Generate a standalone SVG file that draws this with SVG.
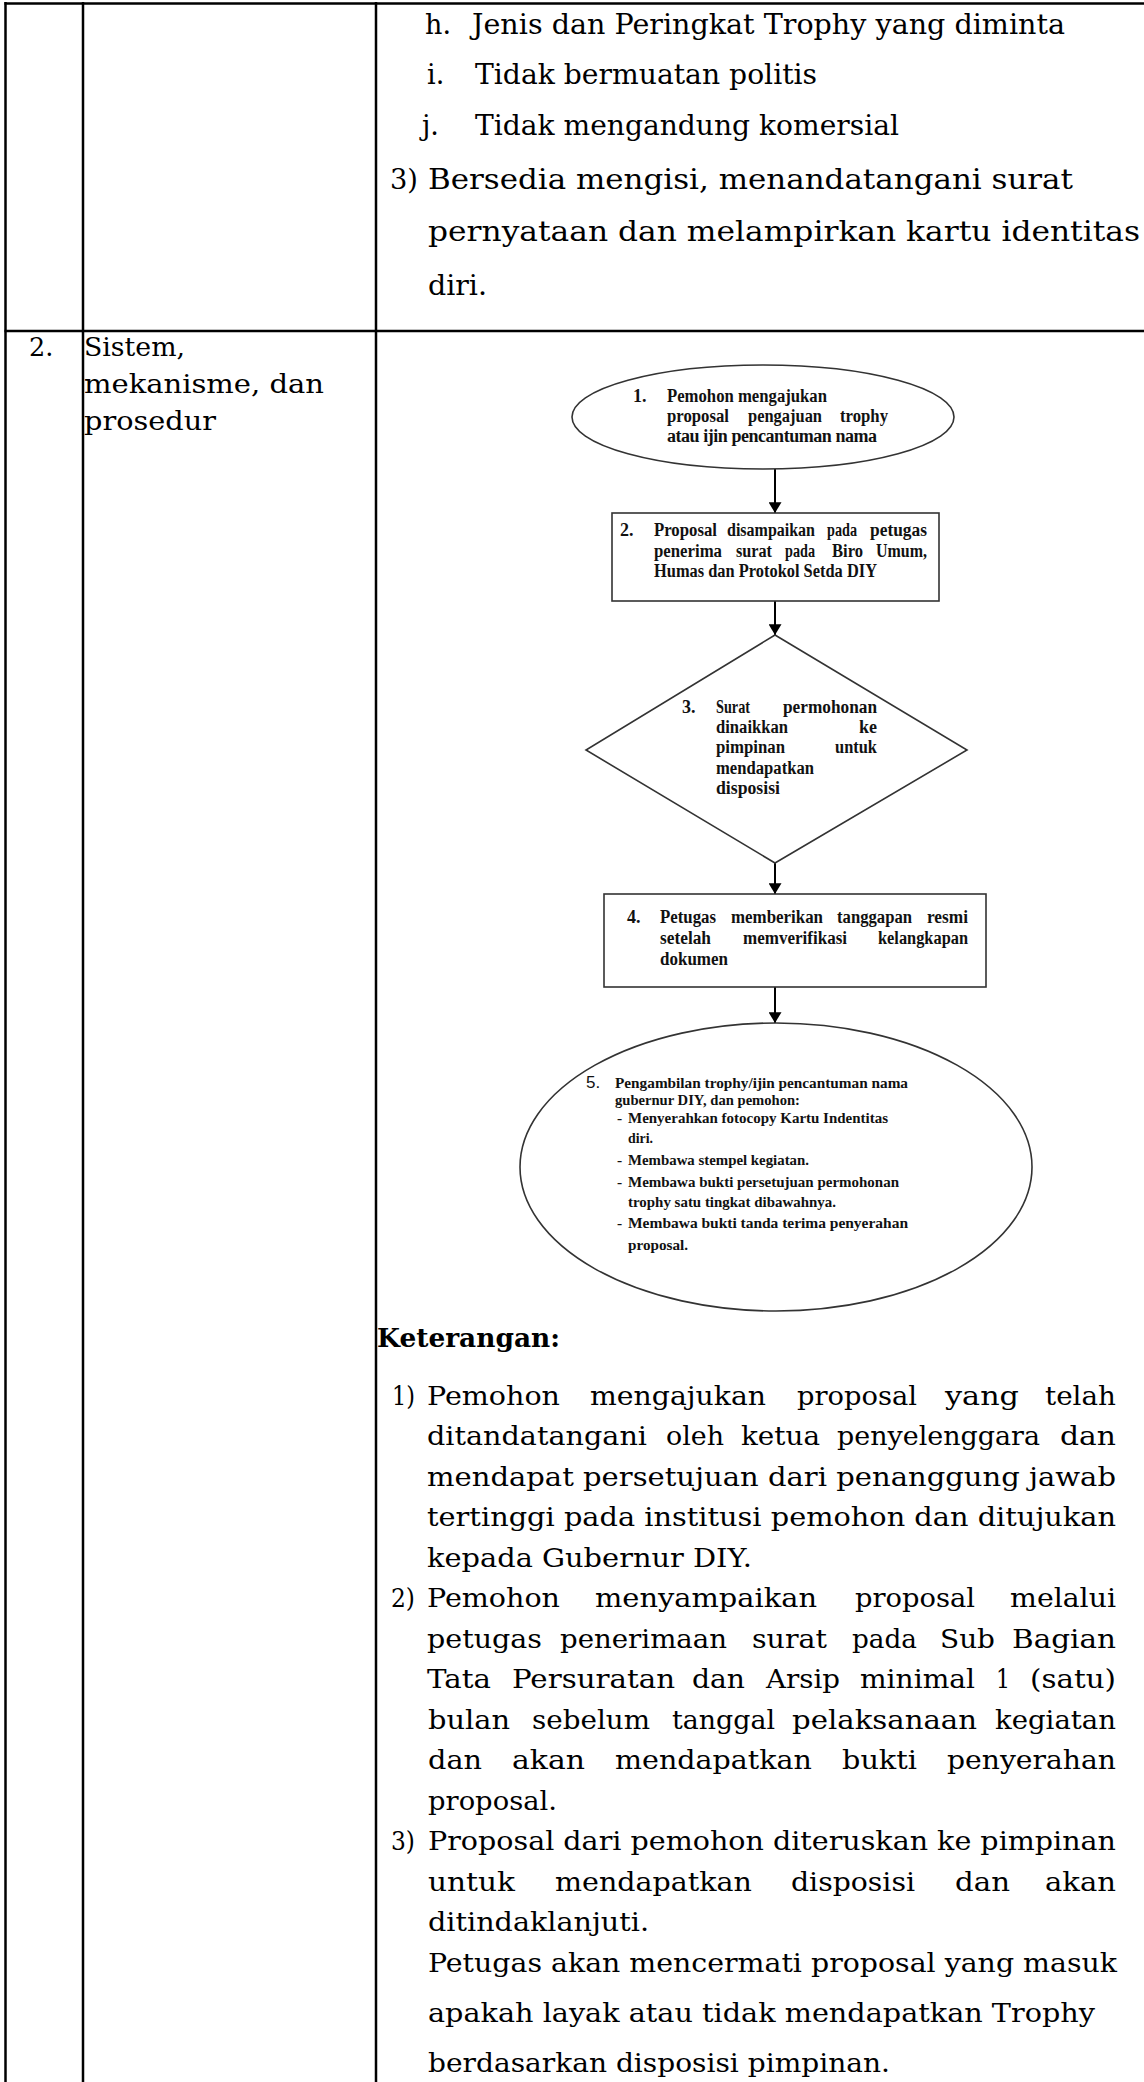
<svg xmlns="http://www.w3.org/2000/svg" width="1144" height="2082" viewBox="0 0 1144 2082">
<style>
.grid{stroke:#000;stroke-width:2.5;fill:none}
.t1{font-family:"DejaVu Serif",serif;font-size:27px;fill:#000}
.t2{font-family:"DejaVu Serif",serif;font-size:25.5px;fill:#000}
.k{font-family:"DejaVu Serif",serif;font-size:26.5px;fill:#000}
.kh{font-family:"DejaVu Serif",serif;font-size:26px;font-weight:bold;fill:#000}
.f{font-family:"Liberation Serif",serif;font-size:18px;font-weight:bold;fill:#111}
.f5{font-family:"Liberation Serif",serif;font-size:15.5px;font-weight:bold;fill:#111}
.num5{font-family:"Liberation Sans",sans-serif;font-size:17px;fill:#111}
.shape{fill:#fff;stroke:#333;stroke-width:1.6}
.conn{stroke:#000;stroke-width:2;fill:none}
</style>
<defs>
<marker id="ah" viewBox="0 0 10 12" markerWidth="11" markerHeight="13" refX="10" refY="6" orient="auto" markerUnits="userSpaceOnUse"><path d="M0,0 L10,6 L0,12 z" fill="#000"/></marker>
</defs>
<rect width="1144" height="2082" fill="#fff"/>
<g id="table">
<line class="grid" x1="4.5" y1="3.5" x2="1144" y2="3.5"/>
<line class="grid" x1="5.5" y1="2" x2="5.5" y2="2082"/>
<line class="grid" x1="83" y1="2" x2="83" y2="2082"/>
<line class="grid" x1="376" y1="2" x2="376" y2="2082"/>
<line class="grid" x1="4.5" y1="331" x2="1144" y2="331"/>
</g>
<g id="row1-text">
<text class="t1" x="425" y="34">h.</text>
<text class="t1" x="472" y="34" textLength="593" lengthAdjust="spacingAndGlyphs">Jenis dan Peringkat Trophy yang diminta</text>
<text class="t1" x="427" y="84">i.</text>
<text class="t1" x="475" y="84" textLength="342" lengthAdjust="spacingAndGlyphs">Tidak bermuatan politis</text>
<text class="t1" x="422" y="135">j.</text>
<text class="t1" x="475" y="135" textLength="424" lengthAdjust="spacingAndGlyphs">Tidak mengandung komersial</text>
<text class="t1" x="390" y="189" textLength="28" lengthAdjust="spacingAndGlyphs">3)</text>
<text class="t1" x="428" y="189" textLength="645" lengthAdjust="spacingAndGlyphs">Bersedia mengisi, menandatangani surat</text>
<text class="t1" x="428" y="241" textLength="712" lengthAdjust="spacingAndGlyphs">pernyataan dan melampirkan kartu identitas</text>
<text class="t1" x="428" y="295" textLength="59" lengthAdjust="spacingAndGlyphs">diri.</text>
</g>
<g id="row2-label">
<text class="t2" x="29" y="356">2.</text>
<text class="t2" x="84" y="356" textLength="101" lengthAdjust="spacingAndGlyphs">Sistem,</text>
<text class="t2" x="84" y="393" textLength="240" lengthAdjust="spacingAndGlyphs">mekanisme, dan</text>
<text class="t2" x="84" y="430" textLength="132" lengthAdjust="spacingAndGlyphs">prosedur</text>
</g>
<g id="connectors">
<line class="conn" x1="775" y1="469" x2="775" y2="513" marker-end="url(#ah)"/>
<line class="conn" x1="775" y1="601" x2="775" y2="635" marker-end="url(#ah)"/>
<line class="conn" x1="775" y1="863" x2="775" y2="894" marker-end="url(#ah)"/>
<line class="conn" x1="775" y1="987" x2="775" y2="1023" marker-end="url(#ah)"/>
</g>
<g id="n1">
<ellipse class="shape" cx="763" cy="417" rx="191" ry="52"/>
<text class="f" x="633" y="402">1.</text>
<text class="f" x="667" y="402" textLength="160" lengthAdjust="spacingAndGlyphs">Pemohon mengajukan</text>
<text class="f" x="667" y="422" textLength="62" lengthAdjust="spacingAndGlyphs">proposal</text>
<text class="f" x="748" y="422" textLength="74" lengthAdjust="spacingAndGlyphs">pengajuan</text>
<text class="f" x="840" y="422" textLength="48" lengthAdjust="spacingAndGlyphs">trophy</text>
<text class="f" x="667" y="442" textLength="210" lengthAdjust="spacing">atau ijin pencantuman nama</text>
</g>
<g id="n2">
<rect class="shape" x="612" y="513" width="327" height="88"/>
<text class="f" x="620" y="536">2.</text>
<text class="f" x="654" y="536" textLength="63" lengthAdjust="spacingAndGlyphs">Proposal</text>
<text class="f" x="727" y="536" textLength="88" lengthAdjust="spacingAndGlyphs">disampaikan</text>
<text class="f" x="827" y="536" textLength="30" lengthAdjust="spacingAndGlyphs">pada</text>
<text class="f" x="870" y="536" textLength="57" lengthAdjust="spacingAndGlyphs">petugas</text>
<text class="f" x="654" y="557" textLength="68" lengthAdjust="spacingAndGlyphs">penerima</text>
<text class="f" x="736" y="557" textLength="36" lengthAdjust="spacingAndGlyphs">surat</text>
<text class="f" x="785" y="557" textLength="30" lengthAdjust="spacingAndGlyphs">pada</text>
<text class="f" x="832" y="557" textLength="31" lengthAdjust="spacingAndGlyphs">Biro</text>
<text class="f" x="876" y="557" textLength="51" lengthAdjust="spacingAndGlyphs">Umum,</text>
<text class="f" x="654" y="577" textLength="223" lengthAdjust="spacingAndGlyphs">Humas dan Protokol Setda DIY</text>
</g>
<g id="n3">
<polygon class="shape" points="775,635 967,750 775,863 586,750"/>
<text class="f" x="682" y="713">3.</text>
<text class="f" x="716" y="713" textLength="34" lengthAdjust="spacingAndGlyphs">Surat</text>
<text class="f" x="783" y="713" textLength="94" lengthAdjust="spacingAndGlyphs">permohonan</text>
<text class="f" x="716" y="733" textLength="72" lengthAdjust="spacingAndGlyphs">dinaikkan</text>
<text class="f" x="859" y="733" textLength="18" lengthAdjust="spacingAndGlyphs">ke</text>
<text class="f" x="716" y="753" textLength="69" lengthAdjust="spacingAndGlyphs">pimpinan</text>
<text class="f" x="835" y="753" textLength="42" lengthAdjust="spacingAndGlyphs">untuk</text>
<text class="f" x="716" y="774" textLength="98" lengthAdjust="spacingAndGlyphs">mendapatkan</text>
<text class="f" x="716" y="794" textLength="64" lengthAdjust="spacingAndGlyphs">disposisi</text>
</g>
<g id="n4">
<rect class="shape" x="604" y="894" width="382" height="93"/>
<text class="f" x="627" y="923">4.</text>
<text class="f" x="660" y="923" textLength="56" lengthAdjust="spacingAndGlyphs">Petugas</text>
<text class="f" x="731" y="923" textLength="92" lengthAdjust="spacingAndGlyphs">memberikan</text>
<text class="f" x="837" y="923" textLength="75" lengthAdjust="spacingAndGlyphs">tanggapan</text>
<text class="f" x="927" y="923" textLength="41" lengthAdjust="spacingAndGlyphs">resmi</text>
<text class="f" x="660" y="944" textLength="51" lengthAdjust="spacingAndGlyphs">setelah</text>
<text class="f" x="743" y="944" textLength="104" lengthAdjust="spacingAndGlyphs">memverifikasi</text>
<text class="f" x="878" y="944" textLength="90" lengthAdjust="spacingAndGlyphs">kelangkapan</text>
<text class="f" x="660" y="965" textLength="68" lengthAdjust="spacingAndGlyphs">dokumen</text>
</g>
<g id="n5">
<ellipse class="shape" cx="776" cy="1167" rx="256" ry="144"/>
<text class="num5" x="586" y="1088">5.</text>
<text class="f5" x="615" y="1088" textLength="293" lengthAdjust="spacingAndGlyphs">Pengambilan trophy/ijin pencantuman nama</text>
<text class="f5" x="615" y="1105" textLength="185" lengthAdjust="spacingAndGlyphs">gubernur DIY, dan pemohon:</text>
<text class="f5" x="617" y="1123">-</text>
<text class="f5" x="628" y="1123" textLength="260" lengthAdjust="spacingAndGlyphs">Menyerahkan fotocopy Kartu Indentitas</text>
<text class="f5" x="628" y="1143" textLength="25" lengthAdjust="spacingAndGlyphs">diri.</text>
<text class="f5" x="617" y="1165">-</text>
<text class="f5" x="628" y="1165" textLength="181" lengthAdjust="spacingAndGlyphs">Membawa stempel kegiatan.</text>
<text class="f5" x="617" y="1187">-</text>
<text class="f5" x="628" y="1187" textLength="271" lengthAdjust="spacingAndGlyphs">Membawa bukti persetujuan permohonan</text>
<text class="f5" x="628" y="1207" textLength="208" lengthAdjust="spacingAndGlyphs">trophy satu tingkat dibawahnya.</text>
<text class="f5" x="617" y="1228">-</text>
<text class="f5" x="628" y="1228" textLength="280" lengthAdjust="spacing">Membawa bukti tanda terima penyerahan</text>
<text class="f5" x="628" y="1250" textLength="60" lengthAdjust="spacingAndGlyphs">proposal.</text>
</g>
<g id="keterangan">
<text class="kh" x="377" y="1347" textLength="183" lengthAdjust="spacingAndGlyphs">Keterangan:</text>
<text class="k" x="392" y="1405" textLength="23" lengthAdjust="spacingAndGlyphs">1)</text>
<text class="k" x="427" y="1405" textLength="133" lengthAdjust="spacingAndGlyphs">Pemohon</text>
<text class="k" x="590" y="1405" textLength="176" lengthAdjust="spacingAndGlyphs">mengajukan</text>
<text class="k" x="797" y="1405" textLength="120" lengthAdjust="spacingAndGlyphs">proposal</text>
<text class="k" x="945" y="1405" textLength="74" lengthAdjust="spacingAndGlyphs">yang</text>
<text class="k" x="1045" y="1405" textLength="71" lengthAdjust="spacingAndGlyphs">telah</text>
<text class="k" x="427" y="1445" textLength="220" lengthAdjust="spacingAndGlyphs">ditandatangani</text>
<text class="k" x="666" y="1445" textLength="58" lengthAdjust="spacingAndGlyphs">oleh</text>
<text class="k" x="741" y="1445" textLength="79" lengthAdjust="spacingAndGlyphs">ketua</text>
<text class="k" x="837" y="1445" textLength="203" lengthAdjust="spacingAndGlyphs">penyelenggara</text>
<text class="k" x="1060" y="1445" textLength="56" lengthAdjust="spacingAndGlyphs">dan</text>
<text class="k" x="427" y="1486" textLength="689" lengthAdjust="spacingAndGlyphs">mendapat persetujuan dari penanggung jawab</text>
<text class="k" x="427" y="1526" textLength="689" lengthAdjust="spacingAndGlyphs">tertinggi pada institusi pemohon dan ditujukan</text>
<text class="k" x="427" y="1567" textLength="325" lengthAdjust="spacingAndGlyphs">kepada Gubernur DIY.</text>
<text class="k" x="391" y="1607" textLength="24" lengthAdjust="spacingAndGlyphs">2)</text>
<text class="k" x="427" y="1607" textLength="133" lengthAdjust="spacingAndGlyphs">Pemohon</text>
<text class="k" x="595" y="1607" textLength="222" lengthAdjust="spacingAndGlyphs">menyampaikan</text>
<text class="k" x="855" y="1607" textLength="120" lengthAdjust="spacingAndGlyphs">proposal</text>
<text class="k" x="1010" y="1607" textLength="106" lengthAdjust="spacingAndGlyphs">melalui</text>
<text class="k" x="427" y="1648" textLength="115" lengthAdjust="spacingAndGlyphs">petugas</text>
<text class="k" x="560" y="1648" textLength="167" lengthAdjust="spacingAndGlyphs">penerimaan</text>
<text class="k" x="752" y="1648" textLength="75" lengthAdjust="spacingAndGlyphs">surat</text>
<text class="k" x="852" y="1648" textLength="65" lengthAdjust="spacingAndGlyphs">pada</text>
<text class="k" x="940" y="1648" textLength="55" lengthAdjust="spacingAndGlyphs">Sub</text>
<text class="k" x="1012" y="1648" textLength="104" lengthAdjust="spacingAndGlyphs">Bagian</text>
<text class="k" x="427" y="1688" textLength="64" lengthAdjust="spacingAndGlyphs">Tata</text>
<text class="k" x="512" y="1688" textLength="163" lengthAdjust="spacingAndGlyphs">Persuratan</text>
<text class="k" x="692" y="1688" textLength="53" lengthAdjust="spacingAndGlyphs">dan</text>
<text class="k" x="766" y="1688" textLength="74" lengthAdjust="spacingAndGlyphs">Arsip</text>
<text class="k" x="860" y="1688" textLength="115" lengthAdjust="spacingAndGlyphs">minimal</text>
<text class="k" x="996" y="1688" textLength="14" lengthAdjust="spacingAndGlyphs">1</text>
<text class="k" x="1030" y="1688" textLength="86" lengthAdjust="spacingAndGlyphs">(satu)</text>
<text class="k" x="428" y="1729" textLength="82" lengthAdjust="spacingAndGlyphs">bulan</text>
<text class="k" x="532" y="1729" textLength="118" lengthAdjust="spacingAndGlyphs">sebelum</text>
<text class="k" x="672" y="1729" textLength="103" lengthAdjust="spacingAndGlyphs">tanggal</text>
<text class="k" x="792" y="1729" textLength="185" lengthAdjust="spacingAndGlyphs">pelaksanaan</text>
<text class="k" x="995" y="1729" textLength="121" lengthAdjust="spacingAndGlyphs">kegiatan</text>
<text class="k" x="428" y="1769" textLength="54" lengthAdjust="spacingAndGlyphs">dan</text>
<text class="k" x="512" y="1769" textLength="73" lengthAdjust="spacingAndGlyphs">akan</text>
<text class="k" x="615" y="1769" textLength="197" lengthAdjust="spacingAndGlyphs">mendapatkan</text>
<text class="k" x="842" y="1769" textLength="75" lengthAdjust="spacingAndGlyphs">bukti</text>
<text class="k" x="947" y="1769" textLength="169" lengthAdjust="spacingAndGlyphs">penyerahan</text>
<text class="k" x="428" y="1810" textLength="129" lengthAdjust="spacingAndGlyphs">proposal.</text>
<text class="k" x="391" y="1850" textLength="24" lengthAdjust="spacingAndGlyphs">3)</text>
<text class="k" x="428" y="1850" textLength="688" lengthAdjust="spacingAndGlyphs">Proposal dari pemohon diteruskan ke pimpinan</text>
<text class="k" x="428" y="1891" textLength="87" lengthAdjust="spacingAndGlyphs">untuk</text>
<text class="k" x="555" y="1891" textLength="197" lengthAdjust="spacingAndGlyphs">mendapatkan</text>
<text class="k" x="791" y="1891" textLength="124" lengthAdjust="spacingAndGlyphs">disposisi</text>
<text class="k" x="955" y="1891" textLength="55" lengthAdjust="spacingAndGlyphs">dan</text>
<text class="k" x="1045" y="1891" textLength="71" lengthAdjust="spacingAndGlyphs">akan</text>
<text class="k" x="428" y="1931" textLength="221" lengthAdjust="spacingAndGlyphs">ditindaklanjuti.</text>
<text class="k" x="428" y="1972" textLength="689" lengthAdjust="spacingAndGlyphs">Petugas akan mencermati proposal yang masuk</text>
<text class="k" x="428" y="2022" textLength="667" lengthAdjust="spacingAndGlyphs">apakah layak atau tidak mendapatkan Trophy</text>
<text class="k" x="428" y="2072" textLength="462" lengthAdjust="spacingAndGlyphs">berdasarkan disposisi pimpinan.</text>
</g>
</svg>
